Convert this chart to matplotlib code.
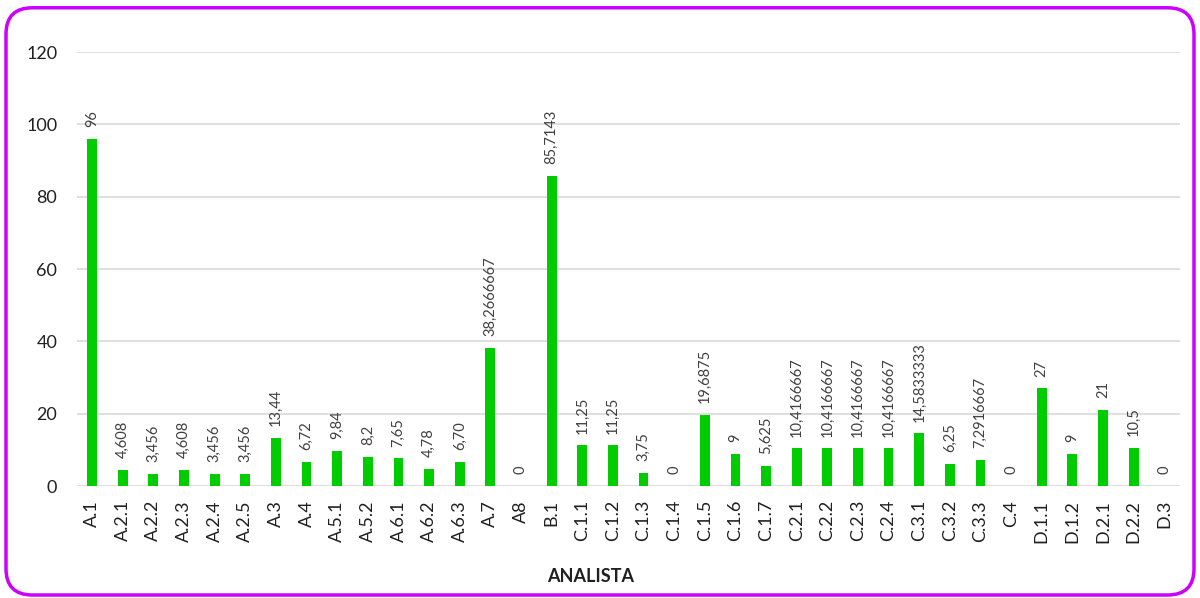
import matplotlib.pyplot as plt
from matplotlib.patches import FancyBboxPatch

categories = ['A.1', 'A.2.1', 'A.2.2', 'A.2.3', 'A.2.4', 'A.2.5', 'A.3', 'A.4',
              'A.5.1', 'A.5.2', 'A.6.1', 'A.6.2', 'A.6.3', 'A.7', 'A8', 'B.1',
              'C.1.1', 'C.1.2', 'C.1.3', 'C.1.4', 'C.1.5', 'C.1.6', 'C.1.7',
              'C.2.1', 'C.2.2', 'C.2.3', 'C.2.4', 'C.3.1', 'C.3.2', 'C.3.3',
              'C.4', 'D.1.1', 'D.1.2', 'D.2.1', 'D.2.2', 'D.3']
values = [96, 4.608, 3.456, 4.608, 3.456, 3.456, 13.44, 6.72,
          9.84, 8.2, 7.65, 4.78, 6.70, 38.2666667, 0, 85.7143,
          11.25, 11.25, 3.75, 0, 19.6875, 9, 5.625,
          10.4166667, 10.4166667, 10.4166667, 10.4166667, 14.5833333, 6.25, 7.2916667,
          0, 27, 9, 21, 10.5, 0]
value_labels = ['96', '4,608', '3,456', '4,608', '3,456', '3,456', '13,44', '6,72',
                '9,84', '8,2', '7,65', '4,78', '6,70', '38,2666667', '0', '85,7143',
                '11,25', '11,25', '3,75', '0', '19,6875', '9', '5,625',
                '10,4166667', '10,4166667', '10,4166667', '10,4166667', '14,5833333', '6,25', '7,2916667',
                '0', '27', '9', '21', '10,5', '0']
yticks = [0, 20, 40, 60, 80, 100, 120]

plt.rcParams['font.family'] = ['Lato', 'DejaVu Sans']

fig = plt.figure(figsize=(12, 5.98), dpi=100)
border = FancyBboxPatch((0.005, 0.005), 0.99, 0.982,
                        boxstyle='round,pad=0,rounding_size=0.022',
                        transform=fig.transFigure, facecolor='none',
                        edgecolor='#CC00FF', linewidth=2.5,
                        mutation_aspect=2.0, zorder=10)
fig.patches.append(border)

ax = fig.add_axes([0.064, 0.187, 0.919, 0.726])
ax.set_facecolor('none')
x = list(range(len(categories)))
ax.bar(x, values, width=0.32, color='#00CC00', zorder=3)
for xi, v, lab in zip(x, values, value_labels):
    ax.annotate(lab, (xi, v), xytext=(0, 8.5), textcoords='offset points',
                ha='center', va='bottom', rotation=90, fontsize=10.5, color='#404040')

ax.set_xlim(-0.5, len(categories) - 0.5)
ax.set_ylim(0, 120)
ax.set_yticks(yticks)
ax.set_xticks(x)
ax.set_xticklabels(categories, rotation=90, fontsize=13, color='#202020')
ax.tick_params(axis='y', labelsize=13, colors='#202020', length=0, pad=14)
ax.tick_params(axis='x', length=0, pad=10)
ax.grid(axis='y', color='#D9D9D9', linewidth=1.2, zorder=0)
for s in ax.spines.values():
    s.set_visible(False)
fig.text(0.492, 1 - 577 / 598, 'ANALISTA', fontsize=13, fontweight='bold',
         color='#202020', ha='center', va='center')

fig.savefig('out.png', dpi=100)
